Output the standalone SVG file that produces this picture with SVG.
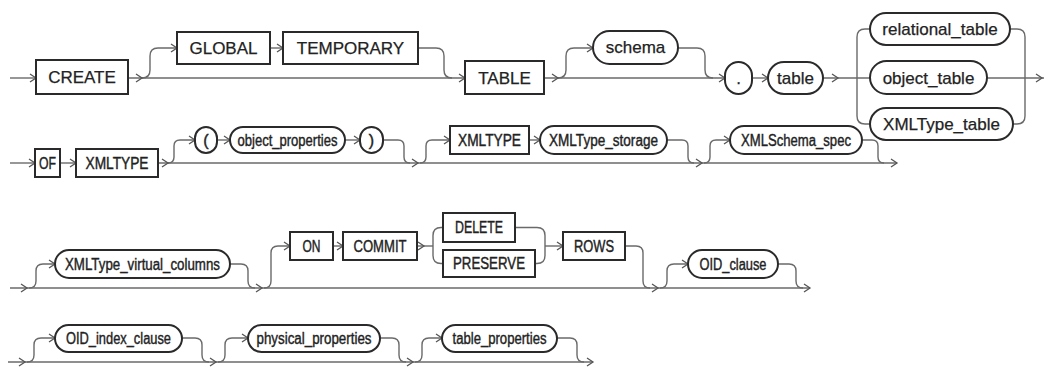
<svg xmlns="http://www.w3.org/2000/svg" xmlns:xlink="http://www.w3.org/1999/xlink" width="1044" height="368" viewBox="0 0 1044 368">
<style>
.bx{fill:#fff;stroke:#2a2a2a;stroke-width:2}
.ln{fill:none;stroke:#6a6a6a;stroke-width:1.4}
.t1{font-family:"Liberation Sans",Arial,sans-serif;font-size:17px;fill:#222;stroke:#222;stroke-width:0.25;text-anchor:middle}
.t2{font-family:"Liberation Sans",Arial,sans-serif;font-size:16px;fill:#222;stroke:#222;stroke-width:0.4;text-anchor:middle}
</style>
<defs>
<path id="a" d="M-6,-4 L0,0 L-6,4" fill="none" stroke="#555" stroke-width="1.3"/>
</defs>
<rect width="1044" height="368" fill="#fff"/>
<g id="connectors">
<!-- row 1 -->
<path class="ln" d="M10,78 H36"/>
<path class="ln" d="M128,78 H465"/>
<path class="ln" d="M142,78 Q150,78 150,70 V56 Q150,48 158,48 H177"/>
<path class="ln" d="M270,48 H283"/>
<path class="ln" d="M418,48 H436 Q444,48 444,56 V70 Q444,78 452,78"/>
<path class="ln" d="M544,78 H725"/>
<path class="ln" d="M558,78 Q566,78 566,70 V56 Q566,48 574,48 H593"/>
<path class="ln" d="M678,48 H697 Q705,48 705,56 V70 Q705,78 713,78"/>
<path class="ln" d="M752,78 H768"/>
<path class="ln" d="M823,78 H870"/>
<path class="ln" d="M857,78 V37 Q857,29 865,29 H870"/>
<path class="ln" d="M857,78 V116 Q857,124 865,124 H870"/>
<path class="ln" d="M1010,29 H1017 Q1025,29 1025,37 V116 Q1025,124 1017,124 H1013"/>
<path class="ln" d="M987,78 H1044"/>
<use xlink:href="#a" x="36" y="78"/>
<use xlink:href="#a" x="142" y="78"/>
<use xlink:href="#a" x="177" y="48"/>
<use xlink:href="#a" x="283" y="48"/>
<use xlink:href="#a" x="465" y="78"/>
<use xlink:href="#a" x="558" y="78"/>
<use xlink:href="#a" x="593" y="48"/>
<use xlink:href="#a" x="725" y="78"/>
<use xlink:href="#a" x="768" y="78"/>
<use xlink:href="#a" x="838" y="78"/>
<use xlink:href="#a" x="1042" y="78"/>
<!-- row 2 -->
<path class="ln" d="M10,163 H35"/>
<path class="ln" d="M60,163 H76"/>
<path class="ln" d="M158,163 H897"/>
<path class="ln" d="M168,163 Q174,163 174,157 V146 Q174,140 180,140 H195"/>
<path class="ln" d="M217,140 H230"/>
<path class="ln" d="M345,140 H360"/>
<path class="ln" d="M383,140 H398 Q404,140 404,146 V157 Q404,163 410,163"/>
<path class="ln" d="M420,163 Q426,163 426,157 V146 Q426,140 432,140 H450"/>
<path class="ln" d="M529,140 H540"/>
<path class="ln" d="M667,140 H682 Q688,140 688,146 V157 Q688,163 694,163"/>
<path class="ln" d="M704,163 Q710,163 710,157 V146 Q710,140 716,140 H730"/>
<path class="ln" d="M862,140 H872 Q878,140 878,146 V157 Q878,163 884,163"/>
<use xlink:href="#a" x="35" y="163"/>
<use xlink:href="#a" x="76" y="163"/>
<use xlink:href="#a" x="168" y="163"/>
<use xlink:href="#a" x="195" y="140"/>
<use xlink:href="#a" x="230" y="140"/>
<use xlink:href="#a" x="360" y="140"/>
<use xlink:href="#a" x="418" y="163"/>
<use xlink:href="#a" x="450" y="140"/>
<use xlink:href="#a" x="540" y="140"/>
<use xlink:href="#a" x="702" y="163"/>
<use xlink:href="#a" x="730" y="140"/>
<use xlink:href="#a" x="897" y="163"/>
<!-- row 3 -->
<path class="ln" d="M10,288 H810"/>
<path class="ln" d="M29,288 Q36,288 36,281 V271 Q36,264 43,264 H55"/>
<path class="ln" d="M230,264 H241 Q248,264 248,271 V281 Q248,288 255,288"/>
<path class="ln" d="M264,288 Q271,288 271,281 V253 Q271,246 278,246 H290"/>
<path class="ln" d="M333,246 H343"/>
<path class="ln" d="M417,246 H433"/>
<path class="ln" d="M433,246 V235.5 Q433,227.5 441,227.5 H443"/>
<path class="ln" d="M433,246 V255.5 Q433,263.5 441,263.5 H443"/>
<path class="ln" d="M515,227.5 H537 Q545,227.5 545,235.5 V255.5 Q545,263.5 537,263.5 H535"/>
<path class="ln" d="M545,246 H563"/>
<path class="ln" d="M625,246 H636 Q643,246 643,253 V281 Q643,288 650,288"/>
<path class="ln" d="M660,288 Q667,288 667,281 V271 Q667,264 674,264 H688"/>
<path class="ln" d="M778,264 H789 Q796,264 796,271 V281 Q796,288 803,288"/>
<use xlink:href="#a" x="27" y="288"/>
<use xlink:href="#a" x="55" y="264"/>
<use xlink:href="#a" x="262" y="288"/>
<use xlink:href="#a" x="290" y="246"/>
<use xlink:href="#a" x="343" y="246"/>
<use xlink:href="#a" x="424" y="246"/>
<use xlink:href="#a" x="563" y="246"/>
<use xlink:href="#a" x="658" y="288"/>
<use xlink:href="#a" x="688" y="264"/>
<use xlink:href="#a" x="810" y="288"/>
<!-- row 4 -->
<path class="ln" d="M8,362 H593"/>
<path class="ln" d="M27,362 Q34,362 34,355 V345 Q34,338 41,338 H55"/>
<path class="ln" d="M182,338 H195 Q202,338 202,345 V355 Q202,362 209,362"/>
<path class="ln" d="M218,362 Q225,362 225,355 V345 Q225,338 232,338 H248"/>
<path class="ln" d="M380,338 H392 Q399,338 399,345 V355 Q399,362 406,362"/>
<path class="ln" d="M415,362 Q422,362 422,355 V345 Q422,338 429,338 H442"/>
<path class="ln" d="M557,338 H570 Q577,338 577,345 V355 Q577,362 584,362"/>
<use xlink:href="#a" x="25" y="362"/>
<use xlink:href="#a" x="55" y="338"/>
<use xlink:href="#a" x="216" y="362"/>
<use xlink:href="#a" x="248" y="338"/>
<use xlink:href="#a" x="413" y="362"/>
<use xlink:href="#a" x="442" y="338"/>
<use xlink:href="#a" x="593" y="362"/>
</g>
<!-- row 1 nodes -->
<g id="n-create"><rect class="bx" x="36" y="60" width="92" height="34"/><text class="t1" x="82" y="83">CREATE</text></g>
<g id="n-global"><rect class="bx" x="177" y="32" width="93" height="32"/><text class="t1" x="223.5" y="54">GLOBAL</text></g>
<g id="n-temporary"><rect class="bx" x="283" y="32" width="135" height="32"/><text class="t1" x="350.5" y="54">TEMPORARY</text></g>
<g id="n-table-kw"><rect class="bx" x="465" y="61" width="79" height="33"/><text class="t1" x="504.5" y="84">TABLE</text></g>
<g id="n-schema"><rect class="bx" x="593" y="31" width="85" height="33" rx="16.5"/><text class="t1" x="635.5" y="53">schema</text></g>
<g id="n-dot"><rect class="bx" x="725" y="62" width="27" height="32" rx="13.5"/><text class="t1" x="738.5" y="84">.</text></g>
<g id="n-table"><rect class="bx" x="768" y="62" width="55" height="32" rx="16"/><text class="t1" x="795.5" y="84">table</text></g>
<g id="n-relational"><rect class="bx" x="870" y="13" width="140" height="32" rx="16"/><text class="t1" x="940" y="35">relational_table</text></g>
<g id="n-object"><rect class="bx" x="870" y="61" width="117" height="33" rx="16.5"/><text class="t1" x="928.5" y="84">object_table</text></g>
<g id="n-xmltable"><rect class="bx" x="870" y="108" width="143" height="32" rx="16"/><text class="t1" x="941.5" y="130">XMLType_table</text></g>
<!-- row 2 nodes -->
<g id="n-of"><rect class="bx" x="35" y="149" width="25" height="28"/><text class="t2" x="47.5" y="168.5" textLength="17" lengthAdjust="spacingAndGlyphs">OF</text></g>
<g id="n-xmltype1"><rect class="bx" x="76" y="149" width="82" height="28"/><text class="t2" x="117" y="168.5" textLength="63" lengthAdjust="spacingAndGlyphs">XMLTYPE</text></g>
<g id="n-lparen"><rect class="bx" x="195" y="127" width="22" height="26" rx="11"/><text class="t2" x="206" y="145.5">(</text></g>
<g id="n-objprops"><rect class="bx" x="230" y="127" width="115" height="26" rx="13"/><text class="t2" x="287.5" y="145.5" textLength="100" lengthAdjust="spacingAndGlyphs">object_properties</text></g>
<g id="n-rparen"><rect class="bx" x="360" y="127" width="23" height="26" rx="11.5"/><text class="t2" x="371.5" y="145.5">)</text></g>
<g id="n-xmltype2"><rect class="bx" x="450" y="126" width="79" height="28"/><text class="t2" x="489.5" y="145.5" textLength="63" lengthAdjust="spacingAndGlyphs">XMLTYPE</text></g>
<g id="n-xmlstorage"><rect class="bx" x="540" y="126" width="127" height="28" rx="14"/><text class="t2" x="603.5" y="145.5" textLength="109" lengthAdjust="spacingAndGlyphs">XMLType_storage</text></g>
<g id="n-xmlschema"><rect class="bx" x="730" y="126" width="132" height="28" rx="14"/><text class="t2" x="796" y="145.5" textLength="110" lengthAdjust="spacingAndGlyphs">XMLSchema_spec</text></g>
<!-- row 3 nodes -->
<g id="n-xvc"><rect class="bx" x="55" y="250" width="175" height="28" rx="14"/><text class="t2" x="142.5" y="269.5" textLength="155" lengthAdjust="spacingAndGlyphs">XMLType_virtual_columns</text></g>
<g id="n-on"><rect class="bx" x="290" y="232" width="43" height="28"/><text class="t2" x="311.5" y="251.5" textLength="18" lengthAdjust="spacingAndGlyphs">ON</text></g>
<g id="n-commit"><rect class="bx" x="343" y="232" width="74" height="28"/><text class="t2" x="380" y="251.5" textLength="53" lengthAdjust="spacingAndGlyphs">COMMIT</text></g>
<g id="n-delete"><rect class="bx" x="443" y="213" width="72" height="29"/><text class="t2" x="479" y="233" textLength="48" lengthAdjust="spacingAndGlyphs">DELETE</text></g>
<g id="n-preserve"><rect class="bx" x="443" y="250" width="92" height="27"/><text class="t2" x="489" y="269" textLength="72" lengthAdjust="spacingAndGlyphs">PRESERVE</text></g>
<g id="n-rows"><rect class="bx" x="563" y="232" width="62" height="28"/><text class="t2" x="594" y="251.5" textLength="40" lengthAdjust="spacingAndGlyphs">ROWS</text></g>
<g id="n-oid"><rect class="bx" x="688" y="250" width="90" height="28" rx="14"/><text class="t2" x="733" y="269.5" textLength="67" lengthAdjust="spacingAndGlyphs">OID_clause</text></g>
<!-- row 4 nodes -->
<g id="n-oidindex"><rect class="bx" x="55" y="325" width="127" height="27" rx="13.5"/><text class="t2" x="118.5" y="344" textLength="105" lengthAdjust="spacingAndGlyphs">OID_index_clause</text></g>
<g id="n-physical"><rect class="bx" x="248" y="325" width="132" height="27" rx="13.5"/><text class="t2" x="314" y="344" textLength="115" lengthAdjust="spacingAndGlyphs">physical_properties</text></g>
<g id="n-tableprops"><rect class="bx" x="442" y="325" width="115" height="27" rx="13.5"/><text class="t2" x="499.5" y="344" textLength="94" lengthAdjust="spacingAndGlyphs">table_properties</text></g>
</svg>
